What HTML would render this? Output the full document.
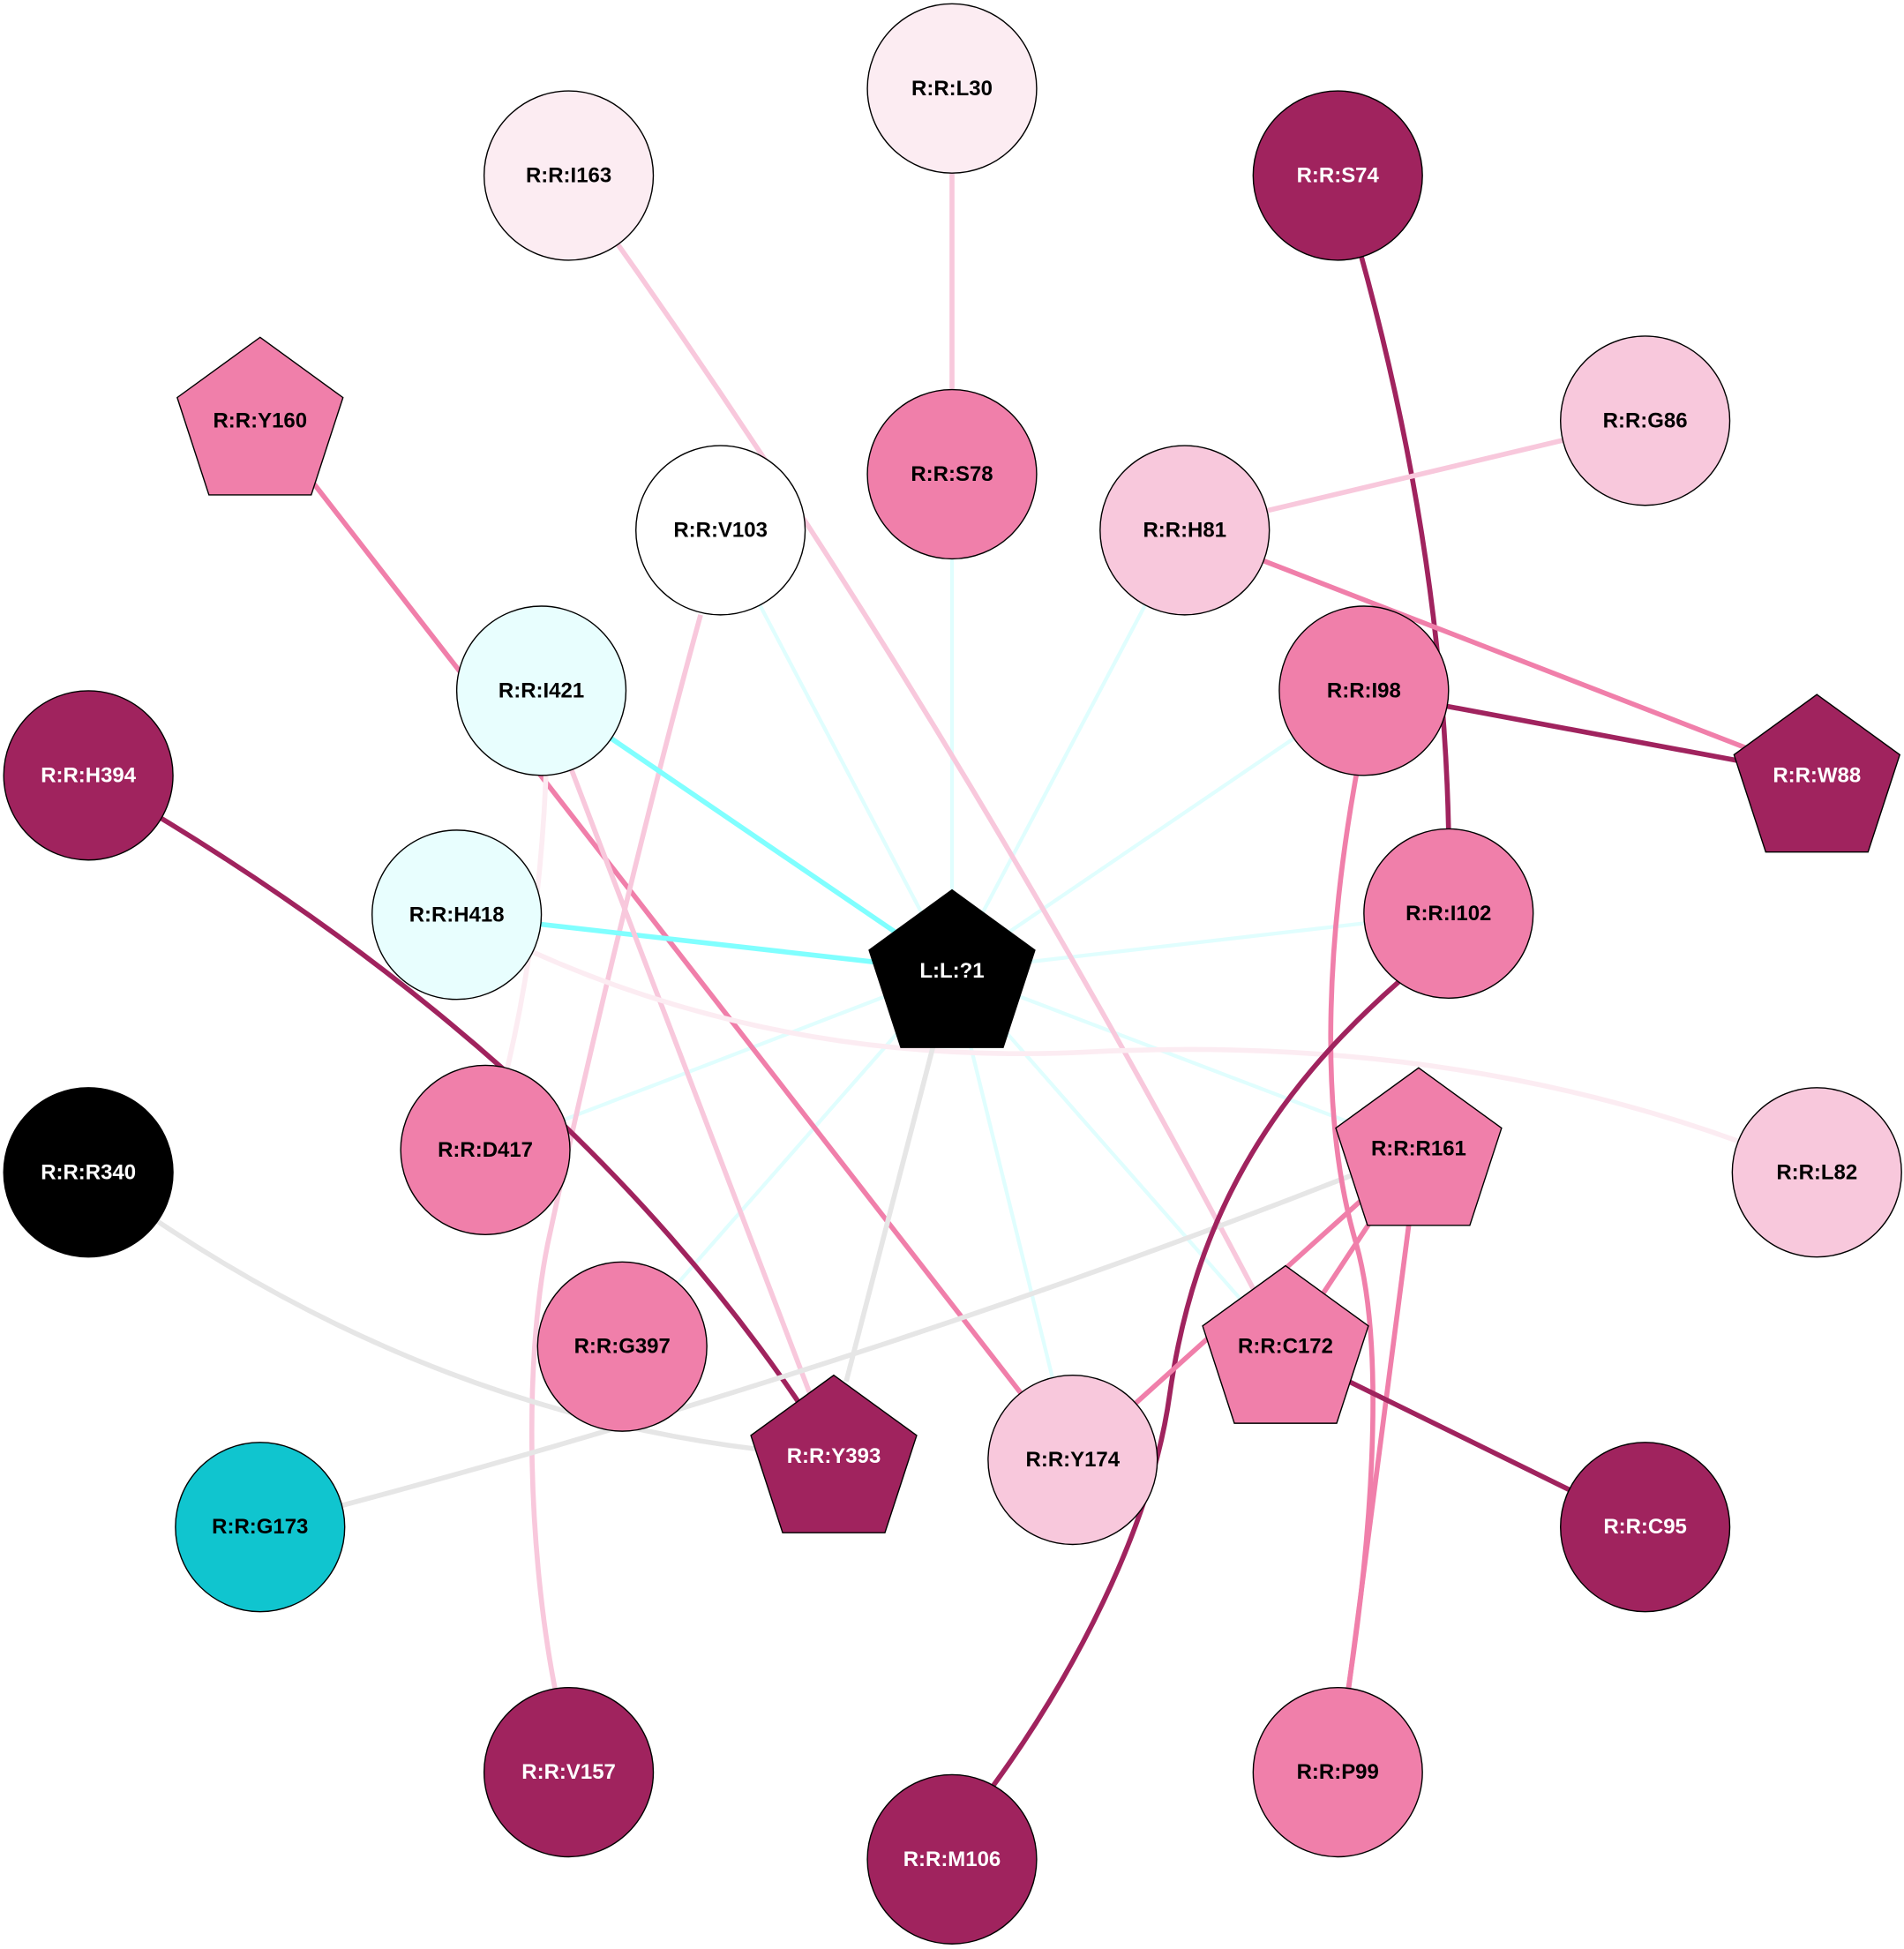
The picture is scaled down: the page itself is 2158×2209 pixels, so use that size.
<!DOCTYPE html>
<html><head><meta charset="utf-8"><style>html,body{margin:0;padding:0;background:#fff}svg{display:block}</style></head><body>
<svg width="2158" height="2209" viewBox="0 0 1530 1566" xmlns="http://www.w3.org/2000/svg">
<g fill="none" stroke-width="4">
<g stroke="#e0fefe" stroke-width="3">
<path d="M765,780 L579,426"/><path d="M765,780 L765,381"/><path d="M765,780 L952,426"/><path d="M765,780 L1096,555"/><path d="M765,780 L1164,734"/><path d="M765,780 L1140,923"/><path d="M765,780 L1033,1085"/><path d="M765,780 L862,1173"/><path d="M765,780 L500,1082"/><path d="M765,780 L390,924"/>
</g>
<path d="M765,71 L765,381" stroke="#f8c8dc"/>
<path d="M457,141 Q760,560 1033,1085" stroke="#f8c8dc"/>
<path d="M1075,141 Q1170,450 1164,734" stroke="#a0235e"/>
<path d="M952,426 L1322,338" stroke="#f8c8dc"/>
<path d="M952,426 L1460,623" stroke="#f07faa"/>
<path d="M1096,555 L1460,623" stroke="#a0235e"/>
<path d="M209,333 L862,1173" stroke="#f07faa"/>
<path d="M563,494 C520,650 470,860 440,1000 C420,1100 425,1250 446,1357" stroke="#f8c8dc"/>
<path d="M435,555 L765,780" stroke="#80ffff"/>
<path d="M367,735 L765,780" stroke="#80ffff"/>
<path d="M435,555 L670,1170" stroke="#f8c8dc"/>
<path d="M440,560 Q440,760 390,924" stroke="#fcecf2"/>
<path d="M71,623 Q470,850 670,1170" stroke="#a0235e"/>
<path d="M367,735 Q600,860 880,845 Q1200,830 1460,942" stroke="#fcecf2"/>
<path d="M71,942 Q350,1150 670,1170" stroke="#e6e6e6"/>
<path d="M209,1227 Q700,1100 1140,923" stroke="#e6e6e6"/>
<path d="M750,840 L680,1110" stroke="#e6e6e6"/>
<path d="M1090,622 C1065,760 1060,900 1090,1000 C1115,1090 1100,1250 1083,1360" stroke="#f07faa"/>
<path d="M1125,788 C1020,880 960,980 940,1120 C925,1230 860,1350 798,1435" stroke="#a0235e"/>
<path d="M1140,923 L862,1173" stroke="#f07faa"/>
<path d="M1140,923 L1033,1085" stroke="#f07faa"/>
<path d="M1140,923 L1075,1424" stroke="#f07faa"/>
<path d="M1033,1085 L1322,1227" stroke="#a0235e"/>
</g>
<g stroke="#000" stroke-width="1">
<circle cx="765" cy="71" r="68" fill="#fcecf2"/>
<circle cx="457" cy="141" r="68" fill="#fcecf2"/>
<circle cx="1075" cy="141" r="68" fill="#a0235e"/>
<circle cx="765" cy="381" r="68" fill="#f07faa"/>
<circle cx="579" cy="426" r="68" fill="#ffffff"/>
<circle cx="952" cy="426" r="68" fill="#f8c8dc"/>
<circle cx="1322" cy="338" r="68" fill="#f8c8dc"/>
<circle cx="435" cy="555" r="68" fill="#e8fefe"/>
<circle cx="1096" cy="555" r="68" fill="#f07faa"/>
<circle cx="71" cy="623" r="68" fill="#a0235e"/>
<circle cx="367" cy="735" r="68" fill="#e8fefe"/>
<circle cx="1164" cy="734" r="68" fill="#f07faa"/>
<circle cx="71" cy="942" r="68" fill="#000"/>
<circle cx="390" cy="924" r="68" fill="#f07faa"/>
<circle cx="1460" cy="942" r="68" fill="#f8c8dc"/>
<circle cx="500" cy="1082" r="68" fill="#f07faa"/>
<circle cx="862" cy="1173" r="68" fill="#f8c8dc"/>
<circle cx="209" cy="1227" r="68" fill="#10c5cf"/>
<circle cx="1322" cy="1227" r="68" fill="#a0235e"/>
<circle cx="457" cy="1424" r="68" fill="#a0235e"/>
<circle cx="1075" cy="1424" r="68" fill="#f07faa"/>
<circle cx="765" cy="1494" r="68" fill="#a0235e"/>
<polygon transform="translate(209,341)" points="0,-70 66.6,-21.6 41.1,56.6 -41.1,56.6 -66.6,-21.6" fill="#f07faa"/>
<polygon transform="translate(1460,628)" points="0,-70 66.6,-21.6 41.1,56.6 -41.1,56.6 -66.6,-21.6" fill="#a0235e"/>
<polygon transform="translate(765,785)" points="0,-70 66.6,-21.6 41.1,56.6 -41.1,56.6 -66.6,-21.6" fill="#000"/>
<polygon transform="translate(1140,928)" points="0,-70 66.6,-21.6 41.1,56.6 -41.1,56.6 -66.6,-21.6" fill="#f07faa"/>
<polygon transform="translate(1033,1087)" points="0,-70 66.6,-21.6 41.1,56.6 -41.1,56.6 -66.6,-21.6" fill="#f07faa"/>
<polygon transform="translate(670,1175)" points="0,-70 66.6,-21.6 41.1,56.6 -41.1,56.6 -66.6,-21.6" fill="#a0235e"/>
</g>
<g font-family="Liberation Sans, Arial, sans-serif" font-weight="bold" font-size="17" text-anchor="middle" dominant-baseline="central" fill="#000">
<text x="765" y="71">R:R:L30</text>
<text x="457" y="141">R:R:I163</text>
<text x="1075" y="141" fill="#fff">R:R:S74</text>
<text x="765" y="381">R:R:S78</text>
<text x="579" y="426">R:R:V103</text>
<text x="952" y="426">R:R:H81</text>
<text x="1322" y="338">R:R:G86</text>
<text x="435" y="555">R:R:I421</text>
<text x="1096" y="555">R:R:I98</text>
<text x="71" y="623" fill="#fff">R:R:H394</text>
<text x="367" y="735">R:R:H418</text>
<text x="1164" y="734">R:R:I102</text>
<text x="71" y="942" fill="#fff">R:R:R340</text>
<text x="390" y="924">R:R:D417</text>
<text x="1460" y="942">R:R:L82</text>
<text x="500" y="1082">R:R:G397</text>
<text x="862" y="1173">R:R:Y174</text>
<text x="209" y="1227">R:R:G173</text>
<text x="1322" y="1227" fill="#fff">R:R:C95</text>
<text x="457" y="1424" fill="#fff">R:R:V157</text>
<text x="1075" y="1424">R:R:P99</text>
<text x="765" y="1494" fill="#fff">R:R:M106</text>
<text x="209" y="338">R:R:Y160</text>
<text x="1460" y="623" fill="#fff">R:R:W88</text>
<text x="765" y="780" fill="#fff">L:L:?1</text>
<text x="1140" y="923">R:R:R161</text>
<text x="1033" y="1082">R:R:C172</text>
<text x="670" y="1170" fill="#fff">R:R:Y393</text>
</g>
</svg>
</body></html>
